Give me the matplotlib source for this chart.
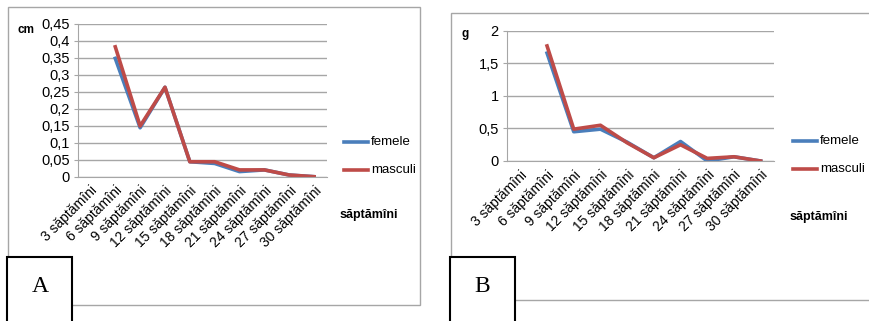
import matplotlib.pyplot as plt
from matplotlib.patches import Rectangle
import numpy as np

weeks = ['3 săptămîni', '6 săptămîni', '9 săptămîni', '12 săptămîni', '15 săptămîni',
         '18 săptămîni', '21 săptămîni', '24 săptămîni', '27 săptămîni', '30 săptămîni']

# panel A (cm)
a_femele = [np.nan, 0.348, 0.144, 0.263, 0.044, 0.039, 0.015, 0.02, 0.005, 0.0]
a_masculi = [np.nan, 0.382, 0.149, 0.263, 0.044, 0.044, 0.02, 0.02, 0.005, 0.0]
a_ticks = [0, 0.05, 0.1, 0.15, 0.2, 0.25, 0.3, 0.35, 0.4, 0.45]

# panel B (g)
b_femele = [np.nan, 1.66, 0.45, 0.49, 0.29, 0.05, 0.30, 0.0, 0.065, 0.0]
b_masculi = [np.nan, 1.77, 0.49, 0.55, 0.28, 0.05, 0.25, 0.04, 0.065, 0.0]
b_ticks = [0, 0.5, 1, 1.5, 2]

W, H = 869, 321
fig = plt.figure(figsize=(W / 100, H / 100), dpi=100)
plt.rcParams['font.family'] = ['Liberation Sans Narrow', 'Liberation Sans', 'DejaVu Sans']

blue = '#4a7ebb'
red = '#be4b48'
grey = '#a6a6a6'


def px(x0, y0, x1, y1):
    # pixel box -> figure fraction [left, bottom, width, height]
    return [x0 / W, 1 - y1 / H, (x1 - x0) / W, (y1 - y0) / H]


def frame(x0, y0, x1, y1, color, lw, fill=False, z=0):
    l, b, w, h = px(x0, y0, x1, y1)
    fig.add_artist(Rectangle((l, b), w, h, transform=fig.transFigure, fill=fill,
                             facecolor='white', edgecolor=color, linewidth=lw, zorder=z))


def fmt(v):
    return ('%g' % v).replace('.', ',')


def panel(box, fem, mas, ticks, ymax, unit, unit_xy, leg_xy, xlab_xy):
    ax = fig.add_axes(px(*box))
    x = np.arange(len(weeks))
    ax.plot(x, fem, color=blue, lw=2.6, solid_joinstyle='round', label='femele')
    ax.plot(x, mas, color=red, lw=2.6, solid_joinstyle='round', label='masculi')
    ax.set_xlim(-0.5, len(weeks) - 0.5)
    ax.set_ylim(0, ymax)
    ax.set_yticks(ticks)
    ax.set_yticklabels([fmt(t) for t in ticks], fontsize=10.5)
    ax.set_xticks(x)
    ax.set_xticklabels(weeks, rotation=45, ha='right', va='top', fontsize=10,
                       rotation_mode='anchor')
    ax.tick_params(axis='x', length=0, pad=5)
    ax.tick_params(axis='y', length=3, color=grey, pad=3)
    ax.grid(axis='y', color=grey, lw=1)
    ax.set_axisbelow(True)
    for s in ['top', 'right']:
        ax.spines[s].set_visible(False)
    ax.spines['left'].set_color(grey)
    ax.spines['bottom'].set_color(grey)
    fig.text(unit_xy[0] / W, 1 - unit_xy[1] / H, unit, fontsize=8.5, fontweight='bold',
             ha='left', va='center')
    fig.text(xlab_xy[0] / W, 1 - xlab_xy[1] / H, 'săptămîni', fontsize=9,
             fontweight='bold', ha='left', va='center')
    lx, ly = leg_xy
    for i, (lab, col) in enumerate([('femele', blue), ('masculi', red)]):
        yy = 1 - (ly + i * 28) / H
        fig.add_artist(plt.Line2D([lx / W, (lx + 24) / W], [yy, yy], color=col, lw=2.6,
                                  transform=fig.transFigure))
        fig.text((lx + 27) / W, yy, lab, fontsize=9.5, ha='left', va='center')
    return ax


# outer frames
frame(8, 7, 420, 305, grey, 1.0)
frame(451, 13, 880, 300, grey, 1.0)

panel((78, 23.7, 326.5, 176.7), a_femele, a_masculi, a_ticks, 0.45, 'cm',
      (17, 30), (344, 142), (340, 215))
panel((507, 31, 774, 161), b_femele, b_masculi, b_ticks, 2, 'g',
      (462, 34), (793, 141), (790, 217))

# letter boxes
frame(7, 257, 72, 330, 'black', 1.5, fill=True, z=5)
frame(450, 257, 515, 330, 'black', 1.5, fill=True, z=5)
fig.text(40 / W, 1 - 286 / H, 'A', fontsize=17, family='Liberation Serif', ha='center',
         va='center', zorder=6)
fig.text(482 / W, 1 - 286 / H, 'B', fontsize=17, family='Liberation Serif', ha='center',
         va='center', zorder=6)

fig.savefig('out.png', dpi=100)
